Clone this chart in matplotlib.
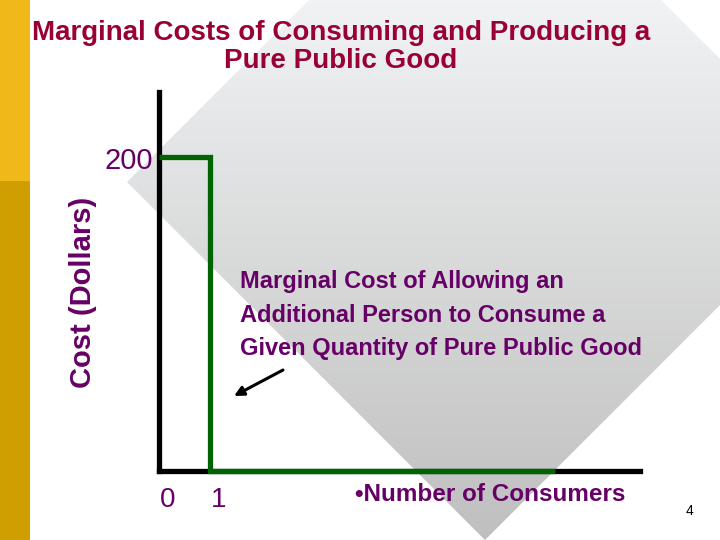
import numpy as np
import matplotlib
matplotlib.use("Agg")
import matplotlib.pyplot as plt
from matplotlib.patches import Polygon, Rectangle

plt.rcParams['font.family'] = ['Liberation Sans', 'DejaVu Sans']

# ---- data ----
title = "Marginal Costs of Consuming and Producing a\nPure Public Good"
ylabel = "Cost (Dollars)"
xlabel = "\u2022Number of Consumers"
mc_consumers = [0, 1, 1, 7.76]      # number of consumers
mc_cost = [200, 200, 0, 0]          # marginal cost (dollars)
x_ticks = [0, 1]
x_tick_labels = ["0", "1"]
y_ticks = [200]
y_tick_labels = ["200"]
annotation = ("Marginal Cost of Allowing an\nAdditional Person to Consume a\n"
              "Given Quantity of Pure Public Good")
page_number = "4"

PURPLE = "#660066"
TITLE_RED = "#990033"
GREEN = "#006400"

fig = plt.figure(figsize=(7.2, 5.4), dpi=100)

# ---- background (slide decoration), pixel coordinates ----
bg = fig.add_axes([0, 0, 1, 1], zorder=-5)
bg.set_xlim(0, 720)
bg.set_ylim(540, 0)
bg.axis('off')
bg.add_patch(Rectangle((0, 0), 30, 181, color="#F0B818", lw=0))
bg.add_patch(Rectangle((0, 181), 30, 359, color="#CF9F02", lw=0))

cx, cy, r = 485, 182, 358
diamond = Polygon([(cx, cy - r), (cx + r, cy), (cx, cy + r), (cx - r, cy)],
                  closed=True, facecolor='none', edgecolor='none')
bg.add_patch(diamond)
ys = np.linspace(cy - r, cy + r, 400)
t = ys / 540.0
top = np.array([0.945, 0.95, 0.955])
bot = np.array([0.75, 0.75, 0.75])
cols = np.clip(top[None, :] + (bot - top)[None, :] * t[:, None], 0, 1)
grad = np.repeat(cols[:, None, :], 2, axis=1)
im = bg.imshow(grad, extent=(cx - r, cx + r, cy + r, cy - r), aspect='auto',
               interpolation='bilinear', zorder=0)
im.set_clip_path(diamond)

bg.text(341, 47, title, ha='center', va='center', color=TITLE_RED,
        fontsize=20, fontweight='bold', linespacing=1.12)
bg.text(689, 511, page_number, ha='center', va='center', fontsize=10, color='black')

# ---- main chart ----
ax = fig.add_axes([159 / 720, (540 - 471) / 540, (640 - 159) / 720, (471 - 92) / 540])
ax.set_facecolor('none')
ax.set_xlim(0, (640 - 159) / 51.0)
ax.set_ylim(0, (471 - 92) / 1.57)
for s in ['top', 'right']:
    ax.spines[s].set_visible(False)
for s in ['left', 'bottom']:
    ax.spines[s].set_linewidth(3.8)
    ax.spines[s].set_color('black')
    ax.spines[s].set_capstyle('projecting')
ax.set_xticks([])
ax.set_yticks([])

ax.plot(mc_consumers, mc_cost, color=GREEN, lw=3.8, solid_joinstyle='miter',
        solid_capstyle='butt', zorder=5, clip_on=False)

for xv, lab in zip(x_ticks, x_tick_labels):
    ax.annotate(lab, xy=(xv, 0), xytext=(6, -21), textcoords='offset points',
                ha='center', va='center', fontsize=20, color=PURPLE,
                annotation_clip=False)
for yv, lab in zip(y_ticks, y_tick_labels):
    ax.annotate(lab, xy=(0, yv), xytext=(-4, -3), textcoords='offset points',
                ha='right', va='center', fontsize=21, color=PURPLE,
                annotation_clip=False)

ax.text(-0.158, 0.47, ylabel, transform=ax.transAxes, rotation=90,
        ha='center', va='center', fontsize=21, fontweight='bold', color=PURPLE)
ax.text(0.408, -0.062, xlabel, transform=ax.transAxes, ha='left', va='center',
        fontsize=17.5, fontweight='bold', color=PURPLE)

bg.text(240, 315, annotation, ha='left', va='center', fontsize=17, fontweight='bold',
        color=PURPLE, linespacing=1.6)
bg.annotate("", xy=(234, 396), xytext=(283, 370),
            arrowprops=dict(arrowstyle='-|>', color='black', lw=2.2,
                            mutation_scale=14, shrinkA=0, shrinkB=0))

fig.savefig("out.png", dpi=100)
